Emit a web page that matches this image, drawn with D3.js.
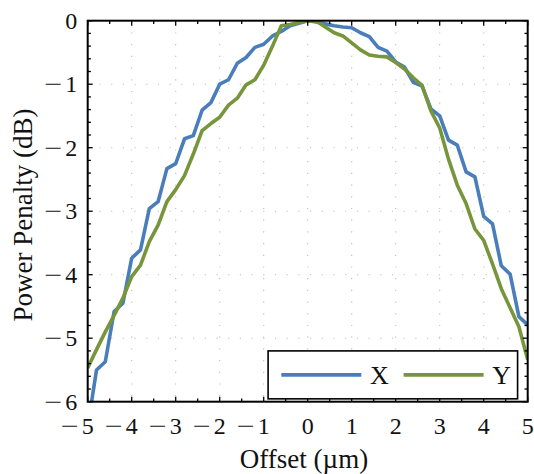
<!DOCTYPE html>
<html>
<head>
<meta charset="utf-8">
<script src="https://cdn.jsdelivr.net/npm/d3@7"></script>
<style>
  body { margin: 0; background: #fff; }
  text { font-family: "Liberation Serif", "DejaVu Serif", serif; fill: #111; }
</style>
</head>
<body>
<svg id="chart" width="534" height="474"></svg>
<script>
// Offset positions (µm)
const offsets = [-5.0, -4.8, -4.6, -4.4, -4.2, -4.0, -3.8, -3.6, -3.4, -3.2,
                 -3.0, -2.8, -2.6, -2.4, -2.2, -2.0, -1.8, -1.6, -1.4, -1.2,
                 -1.0, -0.8, -0.6, -0.4, -0.2, 0.0, 0.2, 0.4, 0.6, 0.8,
                 1.0, 1.2, 1.4, 1.6, 1.8, 2.0, 2.2, 2.4, 2.6, 2.8,
                 3.0, 3.2, 3.4, 3.6, 3.8, 4.0, 4.2, 4.4, 4.6, 4.8, 5.0];

// Power penalty (dB), X direction
const penaltyX = [-6.40, -5.50, -5.37, -4.58, -4.45, -3.74, -3.61, -2.96, -2.85, -2.33,
                  -2.25, -1.86, -1.81, -1.41, -1.29, -1.00, -0.93, -0.67, -0.58, -0.42,
                  -0.37, -0.24, -0.17, -0.08, -0.04, 0.00, -0.02, -0.05, -0.08, -0.10,
                  -0.11, -0.19, -0.25, -0.42, -0.48, -0.65, -0.73, -0.97, -1.03, -1.39,
                  -1.50, -1.88, -1.96, -2.38, -2.46, -3.08, -3.20, -3.86, -3.99, -4.66, -4.79];

// Power penalty (dB), Y direction
const penaltyY = [-5.47, -5.18, -4.90, -4.64, -4.37, -4.03, -3.85, -3.48, -3.22, -2.85,
                  -2.66, -2.44, -2.10, -1.73, -1.62, -1.52, -1.33, -1.22, -1.01, -0.93,
                  -0.70, -0.40, -0.08, -0.06, -0.03, 0.00, -0.01, -0.10, -0.19, -0.24,
                  -0.35, -0.46, -0.54, -0.56, -0.57, -0.66, -0.76, -0.90, -1.02, -1.42,
                  -1.69, -2.18, -2.59, -2.88, -3.28, -3.46, -3.83, -4.22, -4.52, -4.82, -5.34];

const seriesNames = ["X", "Y"];
const seriesColors = ["#4a7ebb", "#77963c"];

const xTicks = [-5, -4, -3, -2, -1, 0, 1, 2, 3, 4, 5];
const yTicks = [0, -1, -2, -3, -4, -5, -6];

const W = 534, H = 474;
const m = { left: 87.7, top: 20.7, right: W - 527.7, bottom: H - 401.7 };
const iw = W - m.left - m.right, ih = H - m.top - m.bottom;

const svg = d3.select("#chart");
const g = svg.append("g").attr("transform", `translate(${m.left},${m.top})`);

const x = d3.scaleLinear().domain([-5, 5]).range([0, iw]);
const y = d3.scaleLinear().domain([-6, 0]).range([ih, 0]);

const tickFont = 24, labelFont = 27;
const minusWidth = 18, minusGap = 3;

// dotted grid at major ticks
const grid = g.append("g").attr("stroke", "#bdbdbd").attr("stroke-width", 1.1)
  .attr("stroke-dasharray", "1.2,10.5");
grid.selectAll("line.vx").data(xTicks.slice(1, -1)).join("line")
  .attr("x1", d => x(d)).attr("x2", d => x(d)).attr("y1", 0).attr("y2", ih);
grid.selectAll("line.hy").data(yTicks.slice(1, -1)).join("line")
  .attr("x1", 0).attr("x2", iw).attr("y1", d => y(d)).attr("y2", d => y(d));

// curves
svg.append("defs").append("clipPath").attr("id", "plot-clip")
  .append("rect").attr("width", iw).attr("height", ih);

const line = d3.line().x(d => x(d[0])).y(d => y(d[1]));
const series = [penaltyX, penaltyY];
g.append("g").attr("clip-path", "url(#plot-clip)")
  .selectAll("path").data(series).join("path")
  .attr("d", s => line(offsets.map((o, i) => [o, s[i]])))
  .attr("fill", "none")
  .attr("stroke", (s, i) => seriesColors[i])
  .attr("stroke-width", 3.6)
  .attr("stroke-linejoin", "round");

// inward ticks on all four sides
const xMinor = d3.range(-5, 5.001, 0.5);
const yMinor = d3.range(-6, 0.001, 0.2);
const isMajor = v => Math.abs(v - Math.round(v)) < 1e-6;
const ticks = g.append("g").attr("stroke", "#000").attr("stroke-width", 1.3);
const majorLen = 5, minorLen = 3.2;
ticks.selectAll("line.b").data(xMinor).join("line")
  .attr("x1", d => x(d)).attr("x2", d => x(d))
  .attr("y1", ih).attr("y2", d => ih - (isMajor(d) ? majorLen : minorLen));
ticks.selectAll("line.t").data(xMinor).join("line")
  .attr("x1", d => x(d)).attr("x2", d => x(d))
  .attr("y1", 0).attr("y2", d => (isMajor(d) ? majorLen : minorLen));
ticks.selectAll("line.l").data(yMinor).join("line")
  .attr("y1", d => y(d)).attr("y2", d => y(d))
  .attr("x1", 0).attr("x2", d => (isMajor(d) ? majorLen : minorLen));
ticks.selectAll("line.r").data(yMinor).join("line")
  .attr("y1", d => y(d)).attr("y2", d => y(d))
  .attr("x1", iw).attr("x2", d => iw - (isMajor(d) ? majorLen : minorLen));

// frame
g.append("rect").attr("width", iw).attr("height", ih)
  .attr("fill", "none").attr("stroke", "#000").attr("stroke-width", 2);

// a wide math-style minus placed to the left of a digit
function addMinus(parent, rightEdge, baseY) {
  parent.append("text").attr("x", rightEdge - minusWidth).attr("y", baseY)
    .attr("textLength", minusWidth).attr("lengthAdjust", "spacingAndGlyphs")
    .text("\u2212");
}

// x tick labels: the digit sits centred on its tick, the minus hangs to the left
const xl = g.append("g").attr("font-size", tickFont);
const xBase = ih + 32;
xTicks.forEach(v => {
  const digit = xl.append("text").attr("x", x(v)).attr("y", xBase)
    .attr("text-anchor", "middle").text(String(Math.abs(v)));
  if (v < 0) {
    const half = digit.node().getComputedTextLength() / 2;
    addMinus(xl, x(v) - half - minusGap, xBase);
  }
});

// y tick labels, right-aligned to the left of the frame
const yl = g.append("g").attr("font-size", tickFont);
const yRight = -10.5;
yTicks.forEach(v => {
  const base = y(v) + tickFont * 0.34;
  const digit = yl.append("text").attr("x", yRight).attr("y", base)
    .attr("text-anchor", "end").text(String(Math.abs(v)));
  if (v < 0) {
    const w = digit.node().getComputedTextLength();
    addMinus(yl, yRight - w - minusGap, base);
  }
});

// axis titles
svg.append("text").attr("x", 304).attr("y", 467.5)
  .attr("text-anchor", "middle").attr("font-size", labelFont).text("Offset (\u00b5m)");
svg.append("text")
  .attr("transform", `translate(32,215) rotate(-90)`)
  .attr("text-anchor", "middle").attr("font-size", labelFont).text("Power Penalty (dB)");

// legend
const lg = g.append("g");
lg.append("rect")
  .attr("x", x(-0.9)).attr("y", y(-5.2))
  .attr("width", x(4.77) - x(-0.9)).attr("height", y(-5.2 - 0.755) - y(-5.2))
  .attr("fill", "#fff").attr("stroke", "#000").attr("stroke-width", 1.6);
const legendY = y(-5.2) + (y(-5.955) - y(-5.2)) / 2;
const entryX = [x(-0.6), x(2.18)];
seriesNames.forEach((name, i) => {
  lg.append("line")
    .attr("x1", entryX[i]).attr("x2", entryX[i] + 80)
    .attr("y1", legendY).attr("y2", legendY)
    .attr("stroke", seriesColors[i]).attr("stroke-width", 3.6);
  lg.append("text").attr("x", entryX[i] + 98).attr("y", legendY).attr("dy", "0.34em")
    .attr("text-anchor", "middle").attr("font-size", 26).text(name);
});
</script>
</body>
</html>
